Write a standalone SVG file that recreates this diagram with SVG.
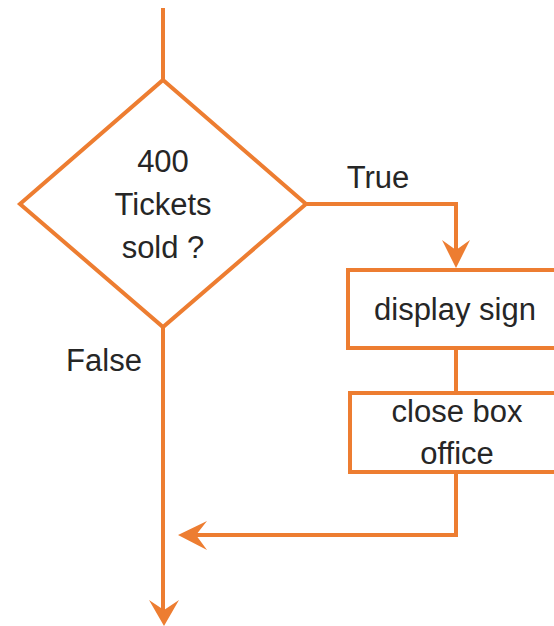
<svg xmlns="http://www.w3.org/2000/svg" width="554" height="626" viewBox="0 0 554 626">
  <style>
    .shape { fill: #ffffff; stroke: #ED7D31; stroke-width: 4; }
    .link { fill: none; stroke: #ED7D31; stroke-width: 4; stroke-linejoin: miter; }
    .label { font-family: "Liberation Sans", Arial, sans-serif; font-size: 31px; fill: #262626; text-anchor: middle; }
    .head { fill: #ED7D31; }
  </style>
  <rect width="554" height="626" fill="#ffffff"/>

  <g id="connectors">
    <!-- entry line into decision -->
    <path class="link" d="M163,8 V80"/>
    <!-- False branch straight down -->
    <path class="link" d="M163,327 V612"/>
    <polygon class="head" points="164,626 149,600 164,610 179,600"/>
    <!-- True branch to display sign -->
    <path class="link" d="M306,204 H456 V256"/>
    <polygon class="head" points="456,268 442,240 456,250 470,240"/>
    <!-- display sign to close box office -->
    <path class="link" d="M456,348 V393"/>
    <!-- back to main line -->
    <path class="link" d="M456,472 V535 H192"/>
    <polygon class="head" points="178,535 207,521 196,535 207,550"/>
  </g>

  <g id="decision">
    <polygon class="shape" points="163,80 306,204 163,327 20,204"/>
    <text class="label" x="163" y="172">400</text>
    <text class="label" x="163" y="215">Tickets</text>
    <text class="label" x="163" y="258">sold ?</text>
  </g>

  <g id="label-true">
    <text class="label" x="378" y="188">True</text>
  </g>
  <g id="label-false">
    <text class="label" x="104" y="371">False</text>
  </g>

  <g id="display-sign">
    <rect class="shape" x="348" y="270" width="220" height="78"/>
    <text class="label" x="455" y="320">display sign</text>
  </g>

  <g id="close-box-office">
    <rect class="shape" x="350" y="393" width="220" height="79"/>
    <text class="label" x="457" y="422">close box</text>
    <text class="label" x="457" y="464">office</text>
  </g>
</svg>
